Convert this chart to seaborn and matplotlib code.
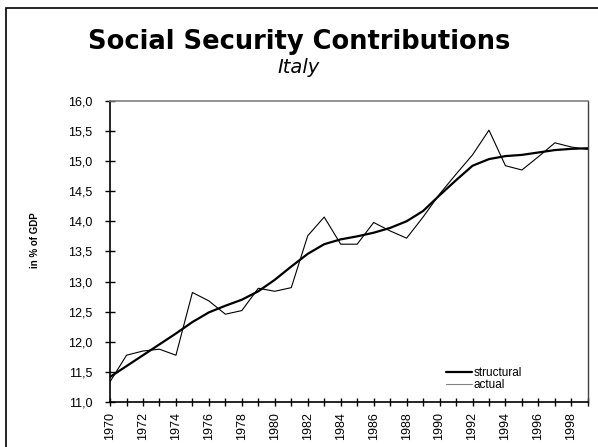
import numpy as np
import pandas as pd
import seaborn as sns
import matplotlib.pyplot as plt
from matplotlib.patches import Rectangle
from matplotlib.ticker import FuncFormatter, MultipleLocator

years = list(range(1970, 2000))
actual = [11.34, 11.78, 11.85, 11.88, 11.78, 12.82, 12.68, 12.46, 12.52, 12.89,
          12.84, 12.90, 13.76, 14.07, 13.62, 13.62, 13.98, 13.84, 13.72, 14.07,
          14.45, 14.78, 15.10, 15.51, 14.92, 14.85, 15.07, 15.30, 15.23, 15.19]
structural = [11.42, 11.60, 11.78, 11.96, 12.14, 12.33, 12.49, 12.60, 12.70, 12.84,
              13.03, 13.25, 13.46, 13.62, 13.70, 13.75, 13.81, 13.89, 14.00, 14.17,
              14.43, 14.68, 14.92, 15.03, 15.08, 15.10, 15.14, 15.18, 15.20, 15.21]

df = pd.DataFrame({"year": years, "structural": structural, "actual": actual})

sns.set_style("white")
plt.rcParams["font.family"] = ["Liberation Sans", "DejaVu Sans"]
plt.rcParams["text.color"] = "black"
plt.rcParams["axes.labelcolor"] = "black"

fig = plt.figure(figsize=(5.98, 4.47), dpi=100)
ax = fig.add_axes([0.184, 0.100, 0.799, 0.675])

sns.lineplot(data=df, x="year", y="structural", ax=ax, color="black", lw=1.6, label="structural")
sns.lineplot(data=df, x="year", y="actual", ax=ax, color="black", lw=0.8, label="actual")

ax.set_xlim(1970, 1999)
ax.set_ylim(11.0, 16.0)
ax.yaxis.set_major_locator(MultipleLocator(0.5))
ax.yaxis.set_major_formatter(FuncFormatter(lambda v, p: f"{v:.1f}".replace(".", ",")))
ax.xaxis.set_major_locator(MultipleLocator(2))
ax.xaxis.set_minor_locator(MultipleLocator(1))
ax.tick_params(axis="x", which="both", direction="inout", length=6, width=1, colors="black",
               labelsize=9, rotation=90, bottom=True, pad=4)
ax.tick_params(axis="y", direction="inout", length=7, width=1, colors="black",
               labelsize=9, left=True, pad=9)
ax.set_xlabel("")
ax.set_ylabel("in % of GDP", fontsize=7, fontweight="bold")
ax.yaxis.set_label_coords(-0.146, 0.538)

for s in ["left", "bottom"]:
    ax.spines[s].set_color("black")
    ax.spines[s].set_linewidth(1.2)
ax.spines["top"].set_color("#808080")
ax.spines["right"].set_color("#404040")
ax.spines["top"].set_linewidth(1.2)
ax.spines["right"].set_linewidth(1.0)

leg = ax.legend(loc="center left", bbox_to_anchor=(0.69, 0.078), frameon=False, fontsize=8.5,
                handlelength=2.2, handletextpad=0.15, labelspacing=0.0, borderpad=0)
leg.get_lines()[1].set_color("#808080")

fig.text(0.5, 0.905, "Social Security Contributions", ha="center", va="center",
         fontsize=18.5, fontweight="bold", family="DejaVu Sans", color="black")
fig.text(0.5, 0.848, "Italy", ha="center", va="center", fontsize=14, style="italic",
         family="DejaVu Sans", color="black")

fig.patches.append(Rectangle((6 / 598, -0.1), 1.2, 1.1 - 8 / 447, transform=fig.transFigure,
                             fill=False, edgecolor="black", lw=1.2))

fig.savefig("out.png", dpi=100)
